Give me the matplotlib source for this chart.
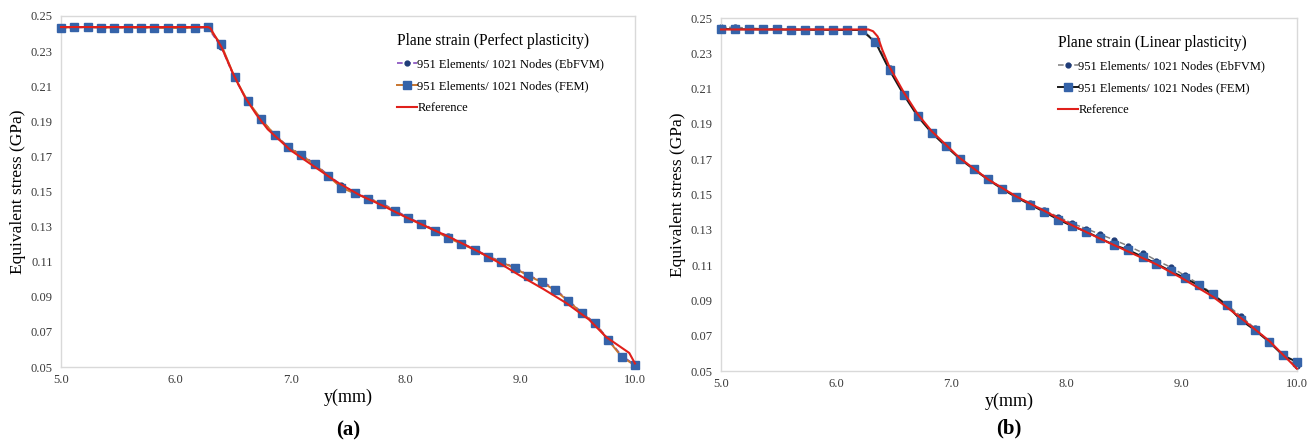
import matplotlib
matplotlib.use("Agg")
import matplotlib.pyplot as plt

plt.rcParams["font.family"] = ["Liberation Serif", "DejaVu Serif"]

# (a) perfect plasticity
xa = [5.000, 5.116, 5.233, 5.349, 5.465, 5.581, 5.698, 5.814, 5.930, 6.047, 6.163, 6.279,
      6.395, 6.512, 6.628, 6.744, 6.860, 6.977, 7.093, 7.209, 7.326, 7.442, 7.558, 7.674,
      7.791, 7.907, 8.023, 8.140, 8.256, 8.372, 8.488, 8.605, 8.721, 8.837, 8.953, 9.070,
      9.186, 9.302, 9.419, 9.535, 9.651, 9.767, 9.884, 10.000]
fem_a = [0.2434, 0.2436, 0.2437, 0.2434, 0.2434, 0.2434, 0.2434, 0.2434, 0.2432, 0.2432, 0.2433, 0.2438,
         0.2339, 0.2150, 0.2014, 0.1912, 0.1823, 0.1753, 0.1706, 0.1655, 0.1589, 0.1522, 0.1489, 0.1460,
         0.1430, 0.1390, 0.1347, 0.1313, 0.1277, 0.1235, 0.1202, 0.1167, 0.1129, 0.1097, 0.1063, 0.1020,
         0.0984, 0.0938, 0.0876, 0.0808, 0.0748, 0.0653, 0.0558, 0.0509]
ebfvm_a = [0.2433, 0.2434, 0.2435, 0.2433, 0.2433, 0.2433, 0.2433, 0.2433, 0.2431, 0.2431, 0.2432, 0.2434,
           0.2325, 0.2145, 0.2010, 0.1910, 0.1826, 0.1757, 0.1710, 0.1660, 0.1594, 0.1538, 0.1495, 0.1463,
           0.1434, 0.1395, 0.1352, 0.1318, 0.1282, 0.1245, 0.1208, 0.1170, 0.1133, 0.1100, 0.1068, 0.1024,
           0.0989, 0.0945, 0.0880, 0.0812, 0.0752, 0.0658, 0.0565, 0.0512]
ref_xa = [5.0, 6.28, 6.30, 6.40, 6.50, 6.60, 6.70, 6.80, 7.00, 7.20, 7.40, 7.60, 7.80, 8.00,
          8.20, 8.40, 8.60, 8.80, 9.00, 9.20, 9.40, 9.60, 9.75, 9.85, 9.95, 10.0]
ref_a = [0.2437, 0.2437, 0.2432, 0.2320, 0.2170, 0.2040, 0.1940, 0.1855, 0.1735, 0.1645, 0.1555,
         0.1480, 0.1420, 0.1355, 0.1295, 0.1235, 0.1170, 0.1100, 0.1020, 0.0945, 0.0865, 0.0770,
         0.0670, 0.0625, 0.0580, 0.0520]

# (b) linear plasticity
xb = [5.000, 5.122, 5.244, 5.366, 5.488, 5.610, 5.732, 5.854, 5.976, 6.098, 6.220, 6.341,
      6.463, 6.585, 6.707, 6.829, 6.951, 7.073, 7.195, 7.317, 7.439, 7.561, 7.683, 7.805,
      7.927, 8.049, 8.171, 8.293, 8.415, 8.537, 8.659, 8.780, 8.902, 9.024, 9.146, 9.268,
      9.390, 9.512, 9.634, 9.756, 9.878, 10.000]
fem_b = [0.2438, 0.2436, 0.2436, 0.2435, 0.2435, 0.2434, 0.2434, 0.2433, 0.2433, 0.2432, 0.2432,
         0.2362, 0.2204, 0.2066, 0.1943, 0.1849, 0.1774, 0.1702, 0.1642, 0.1585, 0.1532, 0.1485,
         0.1443, 0.1402, 0.1358, 0.1321, 0.1289, 0.1251, 0.1213, 0.1185, 0.1147, 0.1108, 0.1066,
         0.1028, 0.0985, 0.0934, 0.0872, 0.0789, 0.0732, 0.0666, 0.0589, 0.0551]
ebfvm_b = [0.2447, 0.2447, 0.2443, 0.2438, 0.2437, 0.2436, 0.2435, 0.2434, 0.2434, 0.2433, 0.2433,
           0.2370, 0.2217, 0.2072, 0.1948, 0.1853, 0.1778, 0.1706, 0.1646, 0.1590, 0.1537, 0.1490,
           0.1450, 0.1410, 0.1374, 0.1336, 0.1306, 0.1274, 0.1242, 0.1208, 0.1170, 0.1126, 0.1089,
           0.1042, 0.0994, 0.0938, 0.0876, 0.0811, 0.0742, 0.0668, 0.0590, 0.0528]
ref_xb = [5.0, 6.28, 6.32, 6.36, 6.40, 6.46, 6.59, 6.71, 6.83, 7.07, 7.32, 7.56, 7.81, 8.05,
          8.29, 8.54, 8.78, 9.02, 9.27, 9.51, 9.76, 10.0]
ref_b = [0.2435, 0.2435, 0.2425, 0.2395, 0.2320, 0.2226, 0.2075, 0.1953, 0.1858, 0.1708, 0.1585,
         0.1490, 0.1406, 0.1325, 0.1250, 0.1175, 0.1104, 0.1019, 0.0921, 0.0802, 0.0670, 0.0513]

xticks = [5.0, 6.0, 7.0, 8.0, 9.0, 10.0]
yticks = [0.05, 0.07, 0.09, 0.11, 0.13, 0.15, 0.17, 0.19, 0.21, 0.23, 0.25]

lbl_eb = "951 Elements/ 1021 Nodes (EbFVM)"
lbl_fem = "951 Elements/ 1021 Nodes (FEM)"

W, H = 1315, 440
fig = plt.figure(figsize=(W / 100, H / 100), dpi=100)

def make_panel(rect, x, eb, fem, rx, ry, eb_line, fem_line, title, tag, tag_y):
    ax = fig.add_axes(rect)
    ax.plot(x, eb, ls="--", lw=1.1, color=eb_line, marker="o", ms=3.5,
            mfc="#1f3c78", mec="#1f3c78", label=lbl_eb, zorder=2, clip_on=False)
    ax.plot(x, fem, ls="-", lw=1.4, color=fem_line, marker="s", ms=5.5,
            mfc="#3563a9", mec="#3563a9", label=lbl_fem, zorder=3, clip_on=False)
    ax.plot(rx, ry, ls="-", lw=1.5, color="#e0201b", label="Reference", zorder=4, clip_on=False)
    ax.set_xlim(5.0, 10.0)
    ax.set_ylim(0.05, 0.25)
    ax.set_xticks(xticks)
    ax.set_xticklabels([f"{v:.1f}" for v in xticks])
    ax.set_yticks(yticks)
    ax.set_yticklabels([f"{v:.2f}" for v in yticks])
    ax.tick_params(length=0, labelsize=9, labelcolor="#3a3a3a")
    ax.tick_params(axis="y", pad=6)
    ax.tick_params(axis="x", pad=5)
    for s in ax.spines.values():
        s.set_color("#d9d9d9")
        s.set_linewidth(1.0)
    ax.set_ylabel("Equivalent stress (GPa)", fontsize=12.5, labelpad=3)
    ax.set_xlabel("y(mm)", fontsize=13, labelpad=2)
    leg = ax.legend(loc="upper left", bbox_to_anchor=(0.565, 0.985), frameon=False,
                    fontsize=9, title=title, title_fontsize=11.2, alignment="left",
                    handlelength=1.6, handletextpad=0.05, labelspacing=0.8)
    leg._legend_box.sep = 7
    ax.text(0.5, tag_y, tag, transform=ax.transAxes, ha="center", va="center",
            fontsize=15, fontweight="bold")
    return ax

make_panel([61 / W, 1 - 367 / H, 574 / W, 351 / H], xa, ebfvm_a, fem_a, ref_xa, ref_a,
           "#7a3db8", "#c8752e", "Plane strain (Perfect plasticity)", "(a)", -0.18)
make_panel([721 / W, 1 - 371 / H, 576 / W, 353 / H], xb, ebfvm_b, fem_b, ref_xb, ref_b,
           "#7f7f7f", "#1a1a1a", "Plane strain (Linear plasticity)", "(b)", -0.163)

fig.savefig("out.png", dpi=100)
